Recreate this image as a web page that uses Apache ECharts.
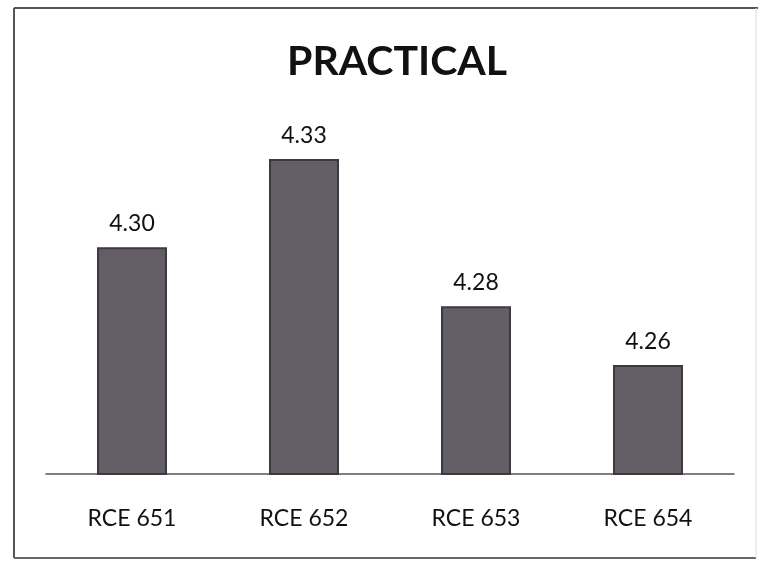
<!DOCTYPE html>
<html>
<head>
<meta charset="utf-8">
<script src="https://cdn.jsdelivr.net/npm/echarts@6/dist/echarts.min.js"></script>
<style>
html,body{margin:0;padding:0;background:#fff;}
#chart{width:758px;height:562px;}
</style>
</head>
<body>
<div id="chart"></div>
<script>
const titleText = "PRACTICAL";
const categories = ["RCE 651", "RCE 652", "RCE 653", "RCE 654"];
const values = [4.30, 4.33, 4.28, 4.26];

const chart = echarts.init(document.getElementById('chart'));
chart.setOption({
  backgroundColor: '#ffffff',
  animation: false,
  title: {
    text: titleText,
    left: 282,
    top: 36,
    textStyle: { fontFamily: 'Lato', fontWeight: 'bold', fontSize: 41, color: '#111' }
  },
  graphic: [
    { type: 'line', shape: { x1: 14, y1: 8, x2: 758, y2: 8 }, style: { stroke: '#555', lineWidth: 2 } },
    { type: 'line', shape: { x1: 14, y1: 8, x2: 14, y2: 558 }, style: { stroke: '#555', lineWidth: 2 } },
    { type: 'line', shape: { x1: 14, y1: 558, x2: 756, y2: 558 }, style: { stroke: '#666', lineWidth: 2 } },
    { type: 'line', shape: { x1: 756, y1: 8, x2: 756, y2: 558 }, style: { stroke: '#ddd', lineWidth: 1 } }
  ],
  grid: { left: 46, right: 24, top: 100, bottom: 88 },
  xAxis: {
    type: 'category',
    data: categories,
    axisLine: { show: true, lineStyle: { color: '#555', width: 1.5 } },
    axisTick: { show: false },
    axisLabel: { margin: 33, fontFamily: 'Lato', fontSize: 23, color: '#111' }
  },
  yAxis: {
    type: 'value',
    min: 4.223,
    max: 4.35,
    show: false,
    splitLine: { show: false }
  },
  series: [{
    type: 'bar',
    data: values,
    barWidth: 70,
    itemStyle: { color: '#635d66', borderColor: '#3e3840', borderWidth: 2 },
    label: {
      show: true,
      position: 'top',
      distance: 12,
      formatter: p => p.value.toFixed(2),
      fontFamily: 'Lato',
      fontSize: 23,
      color: '#111'
    }
  }]
});
</script>
</body>
</html>
